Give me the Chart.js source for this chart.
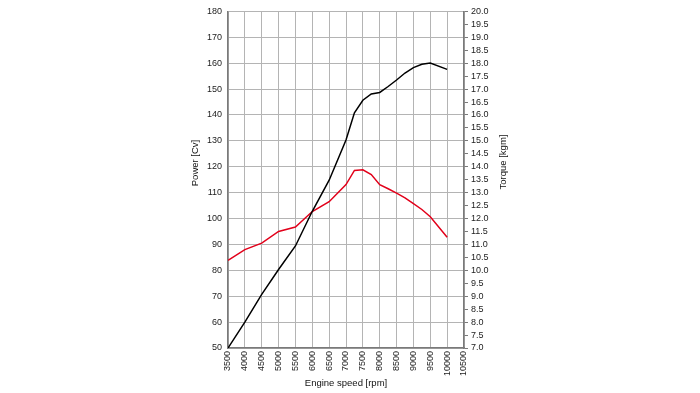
<!DOCTYPE html>
<html>
<head>
<meta charset="utf-8">
<script src="https://cdn.jsdelivr.net/npm/chart.js@4/dist/chart.umd.min.js"></script>
<style>
  html, body { margin: 0; padding: 0; background: #fff; }
  #wrap { position: relative; width: 700px; height: 393px; }
</style>
</head>
<body>
<div id="wrap"><canvas id="chart"></canvas></div>
<script>
// engine speed [rpm]
const rpm = [3500, 4000, 4500, 5000, 5500, 6000, 6500, 7000, 7250, 7500, 7750, 8000, 8250, 8500, 8750, 9000, 9250, 9500, 10000];
// power [Cv]
const power = [50, 60, 70.7, 80.3, 89.4, 102.8, 114.8, 130.3, 140.8, 145.7, 148.1, 148.7, 151.0, 153.5, 156.2, 158.3, 159.6, 160.1, 157.6];
// torque [kgm]
const torque = [10.38, 10.8, 11.05, 11.5, 11.67, 12.27, 12.65, 13.31, 13.86, 13.88, 13.7, 13.31, 13.15, 12.98, 12.8, 12.58, 12.35, 12.07, 11.28];

const leftTitle = 'Power [Cv]';
const rightTitle = 'Torque [kgm]';

const toPts = (xs, ys) => xs.map((x, i) => ({ x: x, y: ys[i] }));

const gridCol = '#b4b4b4';
const axisCol = '#7a7a7a';
const fam = 'Liberation Sans, Arial, sans-serif';
const font = { family: fam, size: 9 };
const titleFont = { family: fam, size: 9.5 };

// vertical axis titles, both read bottom-to-top like the original
const sideTitles = {
    id: 'sideTitles',
    afterDraw(chart) {
        const c = chart.ctx;
        c.save();
        c.fillStyle = '#111';
        c.font = '9.5px ' + fam;
        c.textAlign = 'center';
        c.textBaseline = 'middle';
        [[leftTitle, 195, 163], [rightTitle, 503, 162]].forEach(([t, x, y]) => {
            c.save();
            c.translate(x, y);
            c.rotate(-Math.PI / 2);
            c.fillText(t, 0, 0);
            c.restore();
        });
        c.restore();
    }
};

const ctx = document.getElementById('chart').getContext('2d');
const chart = new Chart(ctx, {
    type: 'line',
    data: {
        datasets: [{
            label: 'Power',
            data: toPts(rpm, power),
            borderColor: '#000000',
            borderWidth: 1.5,
            pointRadius: 0,
            tension: 0,
            yAxisID: 'y'
        }, {
            label: 'Torque',
            data: toPts(rpm, torque),
            borderColor: '#e2001a',
            borderWidth: 1.5,
            pointRadius: 0,
            tension: 0,
            yAxisID: 'y1'
        }]
    },
    plugins: [sideTitles],
    options: {
        responsive: true,
        maintainAspectRatio: false,
        animation: false,
        layout: { padding: { left: 0, right: 0, top: 7, bottom: 0 } },
        plugins: { legend: { display: false }, tooltip: { enabled: false } },
        scales: {
            x: {
                type: 'linear',
                min: 3500,
                max: 10500,
                afterFit: s => { s.height = 45; },
                ticks: { stepSize: 500, color: '#222', font: font, minRotation: 90, maxRotation: 90, padding: 3, autoSkip: false, callback: v => String(v) },
                grid: { color: gridCol, lineWidth: 1, tickLength: 0 },
                border: { color: axisCol, width: 1.5 },
                title: { display: true, text: 'Engine speed [rpm]', color: '#111', font: titleFont, padding: { top: 0, bottom: 4 } }
            },
            y: {
                position: 'left',
                min: 50,
                max: 180,
                afterFit: s => { s.width = 228; },
                ticks: { stepSize: 10, color: '#222', font: font, padding: 6 },
                grid: { color: gridCol, lineWidth: 1, tickLength: 0 },
                border: { color: axisCol, width: 1.5 }
            },
            y1: {
                position: 'right',
                min: 7,
                max: 20,
                afterFit: s => { s.width = 236; },
                ticks: { stepSize: 0.5, color: '#222', font: font, padding: 3, autoSkip: false, callback: v => v.toFixed(1) },
                grid: { drawOnChartArea: false, color: axisCol, tickLength: 4 },
                border: { color: axisCol, width: 1.5 }
            }
        }
    }
});
</script>
</body>
</html>
